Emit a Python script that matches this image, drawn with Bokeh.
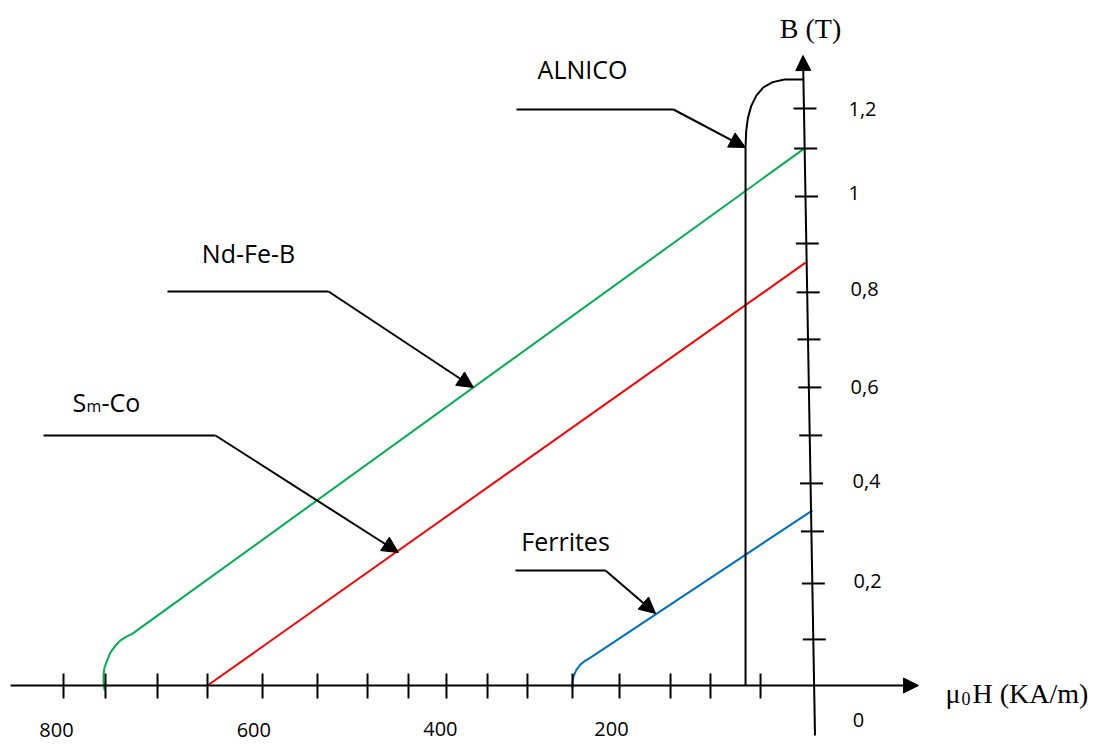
from bokeh.plotting import figure
from bokeh.models import Range1d, Arrow, NormalHead
from bokeh.core.properties import value
from bokeh.embed import file_html
from bokeh.resources import INLINE
import numpy as np

# ---------------- data (H in kA/m, drawn increasing to the left; B in T) ----------------
ndfeb_H = [9.6, 726.4, 732.8, 739.2, 744.5, 749.9, 753.1, 756.3, 757.3, 757.3, 756.3]
ndfeb_B = [1.119, 0.108, 0.102, 0.094, 0.083, 0.069, 0.054, 0.0375, 0.023, 0.008, -0.010]

smco_H = [646.4, 8.5]
smco_B = [0.0, 0.881]

ferrite_H = [1.1, 237.9, 243.2, 248.5, 252.8, 256.0, 257.1, 257.1]
ferrite_B = [0.365, 0.058, 0.052, 0.044, 0.033, 0.019, 0.006, -0.006]

alnico_H = [72.5, 72.5, 71.8, 70.0, 66.5, 61.0, 53.5, 43.5, 31.0, 10.7]
alnico_B = [0.0, 1.121, 1.155, 1.182, 1.207, 1.229, 1.246, 1.257, 1.2625, 1.2625]

h_ticks = [800.0, 755.2, 699.7, 646.4, 587.7, 529.1, 475.7, 432.0, 391.5,
           347.7, 305.1, 257.1, 206.9, 152.5, 109.9, 56.5]
b_ticks = [0.096, 0.2125, 0.321, 0.421, 0.521, 0.621, 0.721, 0.819, 0.921,
           1.019, 1.119, 1.202]

h_tick_labels = ["800", "600", "400", "200"]
h_label_H = [807.5, 597.0, 398.0, 215.5]
h_label_B = [-0.0930, -0.0920, -0.0910, -0.0905]

b_tick_labels = ["1,2", "1", "0,8", "0,6", "0,4", "0,2"]
b_label_H = [-37.3, -37.3, -39.5, -39.5, -41.6, -42.7]
b_label_B = [1.202, 1.025, 0.825, 0.621, 0.425, 0.217]
zero_label = ["0"]
zero_H = [-48.0]
zero_B = [-0.071]

# axes geometry (hand drawn: B axis slightly slanted)
h_axis_H = [856.5, -112.0]
h_axis_B = [0.0, 0.0]
b_axis_H = [-1.6, 11.2]
b_axis_B = [-0.104, 1.3125]

# material labels and their leader lines: [start, knee, arrow tip]
materials = ["ALNICO", "Nd-Fe-B", "Ferrites"]
mat_H = [246.4, 602.7, 264.5]
mat_B = [1.285, 0.900, 0.300]

leader_H = {"ALNICO": [316.8, 149.3, 72.5],
            "Nd-Fe-B": [689.1, 517.3, 362.7],
            "SmCo": [821.3, 637.9, 442.7],
            "Ferrites": [317.9, 221.9, 168.5]}
leader_B = {"ALNICO": [1.200, 1.200, 1.1208],
            "Nd-Fe-B": [0.8208, 0.8208, 0.6208],
            "SmCo": [0.5208, 0.5208, 0.2771],
            "Ferrites": [0.2396, 0.2396, 0.150]}

smco_label_H = 790.4
smco_label_B = 0.5896

# ---------------- figure ----------------
W, H = 1097, 745
X0, X1 = 867.2, -302.93
Y0, Y1 = -0.125, 1.42708
p = figure(width=W, height=H, output_backend="svg", toolbar_location=None,
           x_range=Range1d(X0, X1), y_range=Range1d(Y0, Y1),
           x_axis_type=None, y_axis_type=None, min_border=0)
p.grid.visible = False
p.outline_line_color = None
p.background_fill_color = "white"
p.border_fill_color = "white"

BLACK = "black"
SANS = value("Open Sans")
SERIF = value("Liberation Serif")

# curves
p.line(ndfeb_H, ndfeb_B, line_color="#00B050", line_width=2)
p.line(smco_H, smco_B, line_color="#FF0000", line_width=2)
p.line(ferrite_H, ferrite_B, line_color="#0070C0", line_width=2)
p.line(alnico_H, alnico_B, line_color=BLACK, line_width=2)

# axes with arrows
p.add_layout(Arrow(x_start=h_axis_H[0], y_start=h_axis_B[0], x_end=h_axis_H[1], y_end=h_axis_B[1],
                   line_color=BLACK, line_width=2,
                   end=NormalHead(size=15, fill_color=BLACK, line_color=BLACK)))
p.add_layout(Arrow(x_start=b_axis_H[0], y_start=b_axis_B[0], x_end=b_axis_H[1], y_end=b_axis_B[1],
                   line_color=BLACK, line_width=2,
                   end=NormalHead(size=15, fill_color=BLACK, line_color=BLACK)))

# tick marks
xs_per_px = (X0 - X1) / W
ys_per_px = (Y1 - Y0) / H
hx = np.array(h_ticks)
p.segment(x0=hx, y0=np.full(len(hx), -13 * ys_per_px), x1=hx, y1=np.full(len(hx), 12 * ys_per_px),
          line_color=BLACK, line_width=2)
bt = np.array(b_ticks)
hc = np.interp(bt, b_axis_B, b_axis_H) - 1.0 * xs_per_px
p.segment(x0=hc + 11.5 * xs_per_px, y0=bt, x1=hc - 11.5 * xs_per_px, y1=bt,
          line_color=BLACK, line_width=2)

# tick labels
p.text(x=h_label_H, y=h_label_B, text=h_tick_labels, text_font=SANS, text_font_size="20px",
       text_align="center", text_baseline="middle", text_color=BLACK)
p.text(x=b_label_H, y=b_label_B, text=b_tick_labels, text_font=SANS, text_font_size="20px",
       text_align="left", text_baseline="middle", text_color=BLACK)
p.text(x=zero_H, y=zero_B, text=zero_label, text_font=SANS, text_font_size="20px",
       text_align="center", text_baseline="middle", text_color=BLACK)

# axis titles
p.text(x=[3.2], y=[1.3688], text=["B (T)"], text_font=SERIF, text_font_size="28px",
       text_align="center", text_baseline="middle", text_color=BLACK)
mu_H, mu_B = -140.8, -0.0167
p.text(x=[mu_H], y=[mu_B], text=["\u03bc"], text_font=SERIF, text_font_size="28px",
       text_align="left", text_baseline="alphabetic", text_color=BLACK)
p.text(x=[mu_H], y=[mu_B], text=["0"], x_offset=16, y_offset=5, text_font=SERIF,
       text_font_size="18px", text_align="left", text_baseline="alphabetic", text_color=BLACK)
p.text(x=[mu_H], y=[mu_B], text=["H (KA/m)"], x_offset=27, text_font=SERIF,
       text_font_size="28px", text_align="left", text_baseline="alphabetic", text_color=BLACK)

# material labels
p.text(x=mat_H, y=mat_B, text=materials, text_font=SANS, text_font_size="25px",
       text_align="center", text_baseline="middle", text_color=BLACK)
p.text(x=[smco_label_H], y=[smco_label_B], text=["S"], text_font=SANS, text_font_size="25px",
       text_align="left", text_baseline="alphabetic", text_color=BLACK)
p.text(x=[smco_label_H], y=[smco_label_B], text=["m"], x_offset=14, y_offset=4, text_font=SANS,
       text_font_size="16px", text_align="left", text_baseline="alphabetic", text_color=BLACK)
p.text(x=[smco_label_H], y=[smco_label_B], text=["-Co"], x_offset=29, text_font=SANS,
       text_font_size="25px", text_align="left", text_baseline="alphabetic", text_color=BLACK)

# leader lines with arrows
for key in leader_H:
    lh, lb = leader_H[key], leader_B[key]
    p.line(lh[:2], lb[:2], line_color=BLACK, line_width=2)
    p.add_layout(Arrow(x_start=lh[1], y_start=lb[1], x_end=lh[2], y_end=lb[2],
                       line_color=BLACK, line_width=2,
                       end=NormalHead(size=16, fill_color=BLACK, line_color=BLACK)))

open("out.html", "w").write(file_html(p, INLINE))
